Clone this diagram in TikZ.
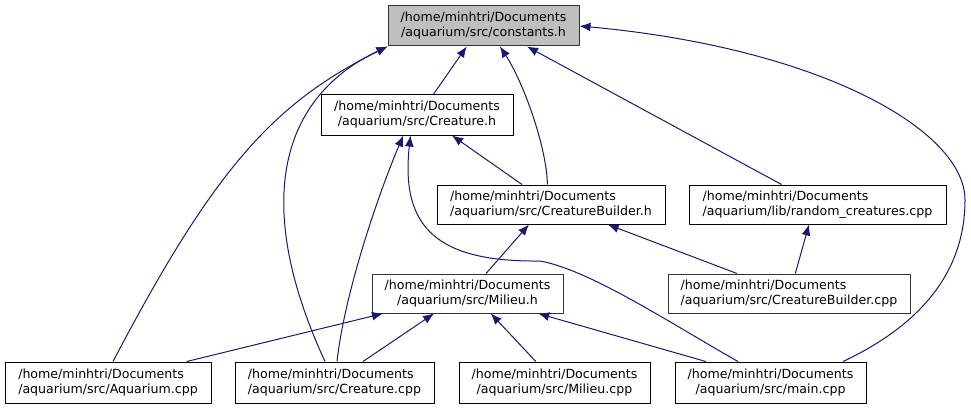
\documentclass[tikz,border=0pt]{standalone}
\usepackage{fontspec}
\setmainfont{DejaVu Sans}
\usetikzlibrary{arrows.meta}
\definecolor{edgeblue}{RGB}{25,25,112}
\definecolor{rootgray}{RGB}{191,191,191}
\begin{document}
\begin{tikzpicture}[x=1pt, y=-1pt, line join=round, >={Latex[length=11pt,width=9pt]},
	font=\fontsize{12.6}{15}\selectfont]
	\tikzset{file/.style={draw=black, line width=1pt, fill=white, align=center, inner sep=0pt, minimum height=40pt},
		rootfile/.style={file, fill=rootgray, draw=black!80},
		longfile/.style={file, align=left},
		incl/.style={->, draw=edgeblue, line width=1pt}}
	\useasboundingbox (0,0) rectangle (971,409);
	% files
	\node[rootfile, minimum width=191pt] (constants) at (483.5,26) {/home/minhtri/Documents\\/aquarium/src/constants.h};
	\node[file, minimum width=192pt] (creatureh) at (417,115) {/home/minhtri/Documents\\/aquarium/src/Creature.h};
	\node[longfile, minimum width=228pt, minimum height=39pt] (builderh) at (551,204.5) {/home/minhtri/Documents\\/aquarium/src/CreatureBuilder.h};
	\node[longfile, minimum width=257pt, minimum height=39pt] (randomcpp) at (817.5,204.5) {/home/minhtri/Documents\\/aquarium/lib/random\_creatures.cpp};
	\node[file, minimum width=191pt, minimum height=39pt, draw=black!80] (milieuh) at (467.5,293.5) {/home/minhtri/Documents\\/aquarium/src/Milieu.h};
	\node[longfile, minimum width=242pt, minimum height=39pt, draw=black!80] (buildercpp) at (789,293.5) {/home/minhtri/Documents\\/aquarium/src/CreatureBuilder.cpp};
	\node[longfile, minimum width=206pt, minimum height=41pt] (aquariumcpp) at (108,382.5) {/home/minhtri/Documents\\/aquarium/src/Aquarium.cpp};
	\node[longfile, minimum width=199pt, minimum height=41pt] (creaturecpp) at (334.5,382.5) {/home/minhtri/Documents\\/aquarium/src/Creature.cpp};
	\node[file, minimum width=191pt, minimum height=41pt] (milieucpp) at (554.5,382.5) {/home/minhtri/Documents\\/aquarium/src/Milieu.cpp};
	\node[file, minimum width=191pt, minimum height=41pt] (maincpp) at (770.5,382.5) {/home/minhtri/Documents\\/aquarium/src/main.cpp};
	% straight includes
	\draw[incl] ([xshift=16.3pt]creatureh.north) -- ([xshift=-16.8pt]constants.south);
	\draw[incl] ([xshift=-36pt]randomcpp.north) -- ([xshift=43.5pt]constants.south);
	\draw[incl] ([xshift=-29pt]builderh.north) -- ([xshift=35pt]creatureh.south);
	\draw[incl] ([xshift=18.5pt]milieuh.north) -- ([xshift=-22pt]builderh.south);
	\draw[incl] ([xshift=-52pt]buildercpp.north) -- ([xshift=56.7pt]builderh.south);
	\draw[incl] ([xshift=6.3pt]buildercpp.north) -- ([xshift=-8.5pt]randomcpp.south);
	\draw[incl] ([xshift=78.7pt]aquariumcpp.north) -- ([xshift=-84.5pt]milieuh.south);
	\draw[incl] ([xshift=28.5pt]creaturecpp.north) -- ([xshift=-33.5pt]milieuh.south);
	\draw[incl] ([xshift=-18.7pt]milieucpp.north) -- ([xshift=23.3pt]milieuh.south);
	\draw[incl] ([xshift=-64.7pt]maincpp.north) -- ([xshift=70.7pt]milieuh.south);
	% curved includes
	\draw[incl] ([xshift=-3.6pt]builderh.north) .. controls (547,150) and (525,85) .. ([xshift=16.5pt]constants.south);
	\draw[incl] ([xshift=5pt]aquariumcpp.north) .. controls (215,167) and (274,103) .. (constants.south west);
	\draw[incl] ([xshift=-9.5pt]creaturecpp.north) .. controls (255,210) and (275,100) .. (constants.south west);
	\draw[incl] ([xshift=2.5pt]creaturecpp.north) .. controls (345,290) and (380,190) .. ([xshift=-13.7pt]creatureh.south);
	\draw[incl] ([xshift=-32.5pt]maincpp.north) .. controls (670,323) and (590,270) .. (540,261)
		.. controls (440,262) and (400,230) .. ([xshift=-6.5pt]creatureh.south);
	\draw[incl] ([xshift=72.5pt]maincpp.north) .. controls (910,330) and (965,280) .. (965,200)
		.. controls (965,130) and (820,48) .. (constants.east);
\end{tikzpicture}
\end{document}
